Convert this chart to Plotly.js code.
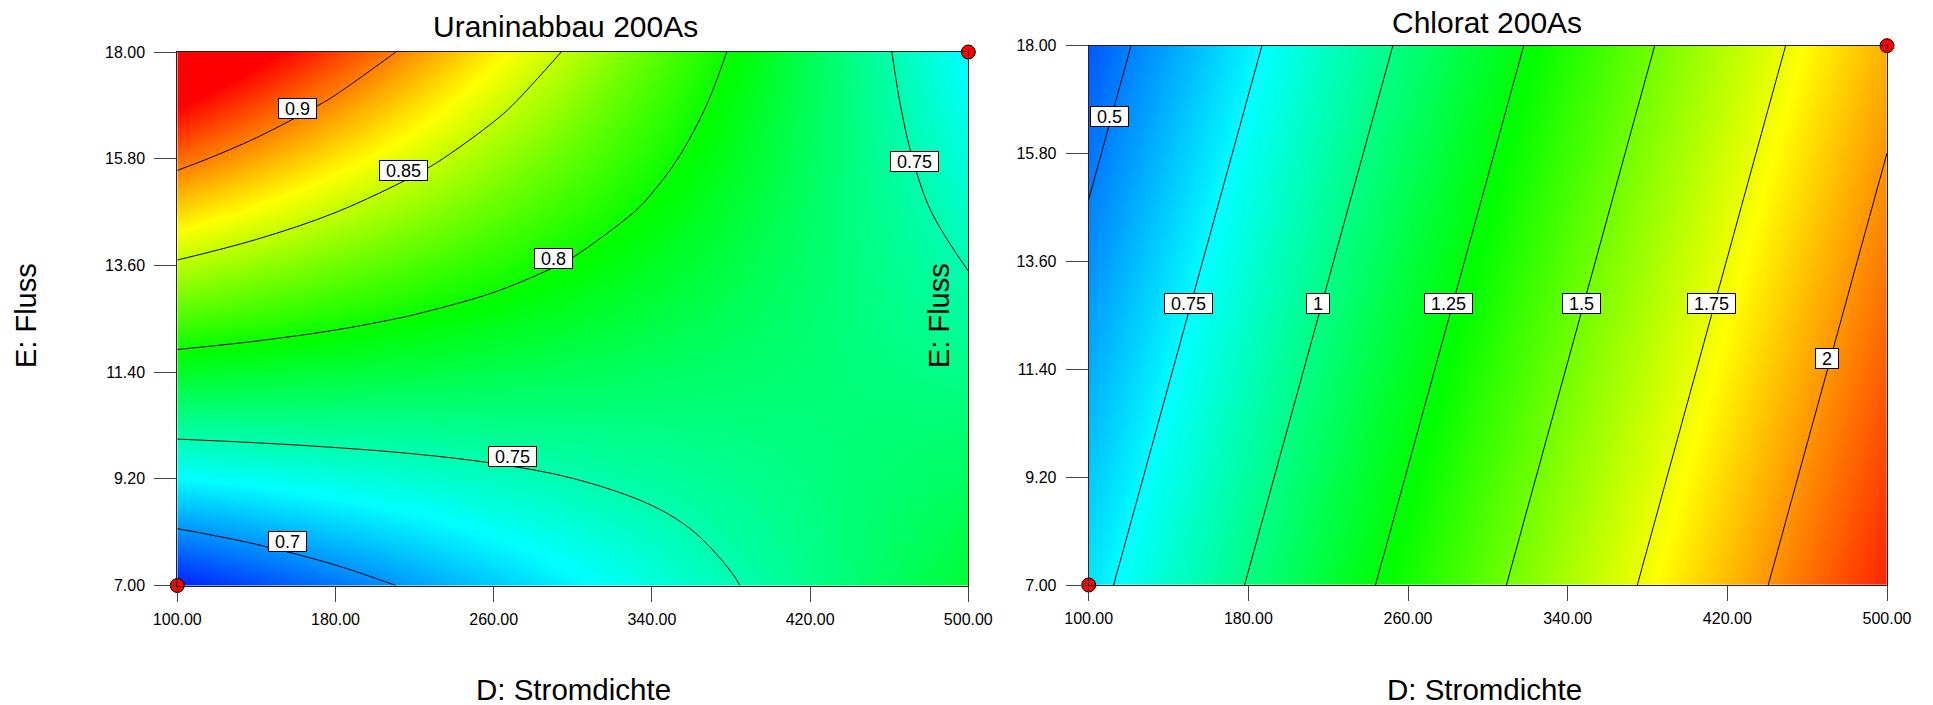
<!DOCTYPE html>
<html>
<head>
<meta charset="utf-8">
<script src="https://cdn.plot.ly/plotly-3.0.1.min.js"></script>
<style>
  html, body { margin: 0; padding: 0; background: #ffffff; }
  #chart { width: 1933px; height: 705px; }
</style>
</head>
<body>
<div id="chart"></div>
<script>
// ---------- data ----------
// Left panel: Uraninabbau 200As (grid of estimated response values)
const uranStromdichte = [100, 140, 180, 220, 260, 300, 340, 380, 420, 460, 500];
const uranFluss = [7, 8.1, 9.2, 10.3, 11.4, 12.5, 13.6, 14.7, 15.8, 16.9, 18];
const uranZ = [
  [0.6683, 0.6798, 0.6913, 0.7027, 0.7142, 0.7257, 0.7372, 0.7487, 0.7601, 0.7716, 0.7831],
  [0.6981, 0.7060, 0.7140, 0.7219, 0.7298, 0.7378, 0.7457, 0.7537, 0.7616, 0.7695, 0.7775],
  [0.7279, 0.7323, 0.7367, 0.7411, 0.7455, 0.7499, 0.7543, 0.7587, 0.7631, 0.7675, 0.7719],
  [0.7576, 0.7585, 0.7594, 0.7602, 0.7611, 0.7619, 0.7628, 0.7637, 0.7645, 0.7654, 0.7662],
  [0.7874, 0.7847, 0.7821, 0.7794, 0.7767, 0.7740, 0.7713, 0.7687, 0.7660, 0.7633, 0.7606],
  [0.8172, 0.8110, 0.8048, 0.7985, 0.7923, 0.7861, 0.7799, 0.7737, 0.7674, 0.7612, 0.7550],
  [0.8470, 0.8372, 0.8275, 0.8177, 0.8079, 0.7982, 0.7884, 0.7787, 0.7689, 0.7591, 0.7494],
  [0.8768, 0.8635, 0.8502, 0.8369, 0.8236, 0.8103, 0.7970, 0.7837, 0.7704, 0.7571, 0.7438],
  [0.9065, 0.8897, 0.8729, 0.8560, 0.8392, 0.8223, 0.8055, 0.7887, 0.7718, 0.7550, 0.7381],
  [0.9363, 0.9159, 0.8956, 0.8752, 0.8548, 0.8344, 0.8140, 0.7937, 0.7733, 0.7529, 0.7325],
  [0.9661, 0.9422, 0.9183, 0.8943, 0.8704, 0.8465, 0.8226, 0.7987, 0.7747, 0.7508, 0.7269]
];
const uranLevels = {start: 0.7, end: 0.9, size: 0.05};
const uranLabelText = ['0.9', '0.85', '0.8', '0.75', '0.75', '0.7'];
const uranLabelD = [160.6, 214.6, 290.0, 269.7, 472.6, 155.8];
const uranLabelE = [16.83, 15.56, 13.75, 9.65, 15.74, 7.91];

// Right panel: Chlorat 200As
const chlorStromdichte = [100, 180, 260, 340, 420, 500];
const chlorFluss = [7, 9.2, 11.4, 13.6, 15.8, 18];
const chlorZ = [
  [0.7024, 1.0072, 1.3121, 1.6170, 1.9219, 2.2268],
  [0.6457, 0.9506, 1.2555, 1.5604, 1.8652, 2.1701],
  [0.5891, 0.8940, 1.1989, 1.5037, 1.8086, 2.1135],
  [0.5325, 0.8374, 1.1422, 1.4471, 1.7520, 2.0569],
  [0.4759, 0.7807, 1.0856, 1.3905, 1.6954, 2.0002],
  [0.4192, 0.7241, 1.0290, 1.3339, 1.6387, 1.9436]
];
const chlorLevels = {start: 0.5, end: 2.0, size: 0.25};
const chlorLabelText = ['0.5', '0.75', '1', '1.25', '1.5', '1.75', '2'];
const chlorLabelD = [110.3, 149.8, 215.1, 280.5, 346.7, 412.3, 470.1];
const chlorLabelE = [16.56, 12.75, 12.75, 12.75, 12.75, 12.75, 11.62];

// Design points (red markers)
const designD = [100, 500];
const designE = [7, 18];

// Tick labels
const ticksD = [100, 180, 260, 340, 420, 500];
const ticksE = [7, 9.2, 11.4, 13.6, 15.8, 18];

// Titles
const titleLeft = 'Uraninabbau 200As';
const titleRight = 'Chlorat 200As';
const xTitle = 'D: Stromdichte';
const yTitle = 'E: Fluss';

// ---------- styling ----------
const FONT = 'Arial, "Liberation Sans", sans-serif';
const rainbow = [
  [0.00, 'rgb(0,0,255)'],
  [0.25, 'rgb(0,255,255)'],
  [0.50, 'rgb(0,255,0)'],
  [0.75, 'rgb(255,255,0)'],
  [1.00, 'rgb(255,0,0)']
];

function surface(x, y, z, zmin, zmax, levels, xa, ya) {
  return [
    {type: 'heatmap', x: x, y: y, z: z, zsmooth: 'best', colorscale: rainbow,
     zmin: zmin, zmax: zmax, showscale: false, xaxis: xa, yaxis: ya, hoverinfo: 'skip'},
    {type: 'contour', x: x, y: y, z: z, showscale: false, xaxis: xa, yaxis: ya,
     contours: {start: levels.start, end: levels.end, size: levels.size, coloring: 'none', showlabels: false},
     line: {color: 'black', width: 1, smoothing: 1}, hoverinfo: 'skip'},
    {type: 'scatter', mode: 'markers', x: designD, y: designE, xaxis: xa, yaxis: ya,
     cliponaxis: false, hoverinfo: 'skip',
     marker: {size: 14, color: 'rgb(255,0,0)', line: {color: 'black', width: 1}}}
  ];
}

const data = []
  .concat(surface(uranStromdichte, uranFluss, uranZ, 0.66, 0.935, uranLevels, 'x', 'y'))
  .concat(surface(chlorStromdichte, chlorFluss, chlorZ, 0.24, 2.30, chlorLevels, 'x2', 'y2'));

function xAxis(domain, anchor) {
  return {domain: domain, anchor: anchor, range: [100, 500], tickvals: ticksD, tickformat: '.2f',
    ticks: 'outside', ticklen: 15, tickwidth: 1, tickcolor: '#444', ticklabelstandoff: 4,
    showline: true, mirror: true, linecolor: '#222', linewidth: 1,
    showgrid: false, zeroline: false, fixedrange: true,
    tickfont: {family: FONT, size: 16, color: '#000'}};
}
function yAxis(domain, anchor) {
  return {domain: domain, anchor: anchor, range: [7, 18], tickvals: ticksE, tickformat: '.2f',
    ticks: 'outside', ticklen: 22, tickwidth: 1, tickcolor: '#444', ticklabelstandoff: 6,
    showline: true, mirror: true, linecolor: '#222', linewidth: 1,
    showgrid: false, zeroline: false, fixedrange: true,
    tickfont: {family: FONT, size: 16, color: '#000'}};
}

function textWidth(s) {
  let w = 0;
  for (const c of s) w += (c === '.') ? 5.0 : 10.0;
  return w;
}
function labels(texts, xs, ys, xref, yref) {
  return texts.map((t, i) => ({
    text: t, x: xs[i], y: ys[i], xref: xref, yref: yref, showarrow: false,
    xanchor: 'center', yanchor: 'middle',
    font: {family: FONT, size: 18, color: '#000'},
    bgcolor: '#ffffff', bordercolor: '#000000', borderwidth: 1, borderpad: 2,
    width: textWidth(t) + 8, height: 15
  }));
}

const annotations = []
  .concat(labels(uranLabelText, uranLabelD, uranLabelE, 'x', 'y'))
  .concat(labels(chlorLabelText, chlorLabelD, chlorLabelE, 'x2', 'y2'))
  .concat([
    {text: titleLeft, xref: 'paper', yref: 'paper', x: 565 / 1933, y: 1 - 27 / 705,
     xanchor: 'center', yanchor: 'middle', showarrow: false, font: {family: FONT, size: 30, color: '#000'}},
    {text: titleRight, xref: 'paper', yref: 'paper', x: 1487 / 1933, y: 1 - 22 / 705,
     xanchor: 'center', yanchor: 'middle', showarrow: false, font: {family: FONT, size: 30, color: '#000'}},
    {text: xTitle, xref: 'paper', yref: 'paper', x: 573 / 1933, y: 1 - 689 / 705,
     xanchor: 'center', yanchor: 'middle', showarrow: false, font: {family: FONT, size: 29.5, color: '#000'}},
    {text: xTitle, xref: 'paper', yref: 'paper', x: 1484 / 1933, y: 1 - 689 / 705,
     xanchor: 'center', yanchor: 'middle', showarrow: false, font: {family: FONT, size: 29.5, color: '#000'}},
    {text: yTitle, xref: 'paper', yref: 'paper', x: 26 / 1933, y: 1 - 316 / 705, textangle: -90,
     xanchor: 'center', yanchor: 'middle', showarrow: false, font: {family: FONT, size: 29, color: '#000'}},
    {text: yTitle, xref: 'paper', yref: 'paper', x: 939 / 1933, y: 1 - 316 / 705, textangle: -90,
     xanchor: 'center', yanchor: 'middle', showarrow: false, font: {family: FONT, size: 29, color: '#000'}}
  ]);

const layout = {
  width: 1933, height: 705,
  margin: {l: 0, r: 0, t: 0, b: 0, pad: 0},
  paper_bgcolor: '#ffffff', plot_bgcolor: '#ffffff',
  showlegend: false,
  font: {family: FONT, color: '#000'},
  xaxis: xAxis([177.3 / 1933, 968.3 / 1933], 'y'),
  yaxis: yAxis([1 - 585.5 / 705, 1 - 52 / 705], 'x'),
  xaxis2: xAxis([1088.7 / 1933, 1887 / 1933], 'y2'),
  yaxis2: yAxis([1 - 585 / 705, 1 - 45.7 / 705], 'x2'),
  annotations: annotations
};

Plotly.newPlot('chart', data, layout, {displayModeBar: false, staticPlot: true});
</script>
</body>
</html>
